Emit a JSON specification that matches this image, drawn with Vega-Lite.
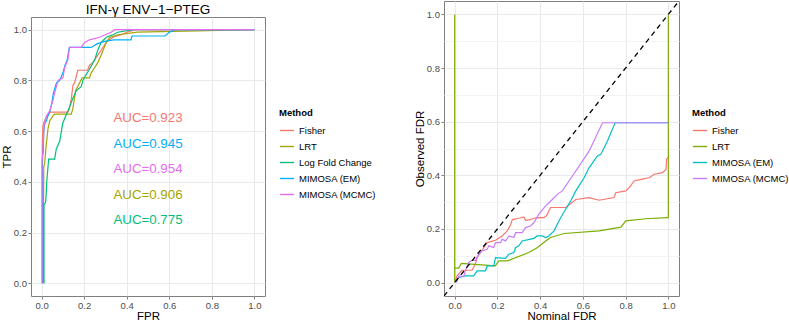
{
  "$schema": "https://vega.github.io/schema/vega-lite/v6.json",
  "padding": 0,
  "background": "white",
  "spacing": 36,
  "config": {
    "font": "Liberation Sans",
    "view": {"stroke": "#7f7f7f", "strokeWidth": 1},
    "title": {"font": "Liberation Sans"},
    "axis": {
      "domain": false,
      "grid": true,
      "tickColor": "#7f7f7f",
      "tickSize": 3,
      "labelColor": "#4d4d4d",
      "labelFontSize": 9.5,
      "labelPadding": 1.5,
      "titleFontSize": 11.5,
      "titleFontWeight": "normal",
      "titleColor": "#000000",
      "labelExpr": "round(datum.value*10)%2==0 ? format(datum.value,'.1f') : ''",
      "tickOpacity": {"condition": {"test": "round(datum.value*10)%2==1", "value": 0}, "value": 1},
      "gridColor": {"condition": {"test": "round(datum.value*10)%2==1", "value": "#f4f4f4"}, "value": "#e9e9e9"},
      "values": [0, 0.1, 0.2, 0.3, 0.4, 0.5, 0.6, 0.7, 0.8, 0.9, 1.0]
    },
    "axisX": {"titlePadding": 0},
    "axisY": {"titlePadding": 1},
    "legend": {
      "titleFontSize": 9.5,
      "titleFontWeight": "bold",
      "titleColor": "#000000",
      "labelFontSize": 9.5,
      "labelColor": "#000000",
      "symbolType": "stroke",
      "symbolSize": 200,
      "symbolStrokeWidth": 1.4,
      "rowPadding": 3,
      "titlePadding": 5
    }
  },
  "datasets": {
    "heading": [
      {"text": "IFN-γ ENV−1−PTEG"}
    ],
    "roc": [
      {"Method": "Fisher", "FPR": 0.003, "TPR": 0},
      {"Method": "Fisher", "FPR": 0.003, "TPR": 0.55},
      {"Method": "Fisher", "FPR": 0.006, "TPR": 0.62},
      {"Method": "Fisher", "FPR": 0.013, "TPR": 0.64},
      {"Method": "Fisher", "FPR": 0.022, "TPR": 0.655},
      {"Method": "Fisher", "FPR": 0.038, "TPR": 0.675},
      {"Method": "Fisher", "FPR": 0.124, "TPR": 0.675},
      {"Method": "Fisher", "FPR": 0.131, "TPR": 0.69},
      {"Method": "Fisher", "FPR": 0.14, "TPR": 0.73},
      {"Method": "Fisher", "FPR": 0.147, "TPR": 0.78},
      {"Method": "Fisher", "FPR": 0.155, "TPR": 0.79},
      {"Method": "Fisher", "FPR": 0.17, "TPR": 0.84},
      {"Method": "Fisher", "FPR": 0.216, "TPR": 0.84},
      {"Method": "Fisher", "FPR": 0.225, "TPR": 0.86},
      {"Method": "Fisher", "FPR": 0.24, "TPR": 0.87},
      {"Method": "Fisher", "FPR": 0.264, "TPR": 0.9},
      {"Method": "Fisher", "FPR": 0.28, "TPR": 0.92},
      {"Method": "Fisher", "FPR": 0.304, "TPR": 0.95},
      {"Method": "Fisher", "FPR": 0.335, "TPR": 0.97},
      {"Method": "Fisher", "FPR": 0.374, "TPR": 0.98},
      {"Method": "Fisher", "FPR": 0.4, "TPR": 0.99},
      {"Method": "Fisher", "FPR": 0.44, "TPR": 1.0},
      {"Method": "Fisher", "FPR": 1.0, "TPR": 1.0},
      {"Method": "LRT", "FPR": 0.009, "TPR": 0},
      {"Method": "LRT", "FPR": 0.009, "TPR": 0.31},
      {"Method": "LRT", "FPR": 0.01, "TPR": 0.46},
      {"Method": "LRT", "FPR": 0.014, "TPR": 0.47},
      {"Method": "LRT", "FPR": 0.022, "TPR": 0.55},
      {"Method": "LRT", "FPR": 0.03, "TPR": 0.61},
      {"Method": "LRT", "FPR": 0.038, "TPR": 0.64},
      {"Method": "LRT", "FPR": 0.053, "TPR": 0.66},
      {"Method": "LRT", "FPR": 0.061, "TPR": 0.667},
      {"Method": "LRT", "FPR": 0.139, "TPR": 0.667},
      {"Method": "LRT", "FPR": 0.147, "TPR": 0.69},
      {"Method": "LRT", "FPR": 0.16, "TPR": 0.76},
      {"Method": "LRT", "FPR": 0.178, "TPR": 0.79},
      {"Method": "LRT", "FPR": 0.19, "TPR": 0.81},
      {"Method": "LRT", "FPR": 0.225, "TPR": 0.81},
      {"Method": "LRT", "FPR": 0.233, "TPR": 0.83},
      {"Method": "LRT", "FPR": 0.249, "TPR": 0.85},
      {"Method": "LRT", "FPR": 0.264, "TPR": 0.87},
      {"Method": "LRT", "FPR": 0.28, "TPR": 0.9},
      {"Method": "LRT", "FPR": 0.304, "TPR": 0.95},
      {"Method": "LRT", "FPR": 0.32, "TPR": 0.97},
      {"Method": "LRT", "FPR": 0.36, "TPR": 0.98},
      {"Method": "LRT", "FPR": 0.45, "TPR": 0.99},
      {"Method": "LRT", "FPR": 1.0, "TPR": 1.0},
      {"Method": "Log Fold Change", "FPR": 0.011, "TPR": 0},
      {"Method": "Log Fold Change", "FPR": 0.011, "TPR": 0.31},
      {"Method": "Log Fold Change", "FPR": 0.019, "TPR": 0.32},
      {"Method": "Log Fold Change", "FPR": 0.022, "TPR": 0.36},
      {"Method": "Log Fold Change", "FPR": 0.024, "TPR": 0.4},
      {"Method": "Log Fold Change", "FPR": 0.033, "TPR": 0.49},
      {"Method": "Log Fold Change", "FPR": 0.061, "TPR": 0.49},
      {"Method": "Log Fold Change", "FPR": 0.069, "TPR": 0.53},
      {"Method": "Log Fold Change", "FPR": 0.085, "TPR": 0.56},
      {"Method": "Log Fold Change", "FPR": 0.099, "TPR": 0.63},
      {"Method": "Log Fold Change", "FPR": 0.113, "TPR": 0.66},
      {"Method": "Log Fold Change", "FPR": 0.124, "TPR": 0.68},
      {"Method": "Log Fold Change", "FPR": 0.147, "TPR": 0.73},
      {"Method": "Log Fold Change", "FPR": 0.163, "TPR": 0.76},
      {"Method": "Log Fold Change", "FPR": 0.186, "TPR": 0.775},
      {"Method": "Log Fold Change", "FPR": 0.194, "TPR": 0.8},
      {"Method": "Log Fold Change", "FPR": 0.207, "TPR": 0.82},
      {"Method": "Log Fold Change", "FPR": 0.222, "TPR": 0.84},
      {"Method": "Log Fold Change", "FPR": 0.249, "TPR": 0.88},
      {"Method": "Log Fold Change", "FPR": 0.264, "TPR": 0.92},
      {"Method": "Log Fold Change", "FPR": 0.28, "TPR": 0.95},
      {"Method": "Log Fold Change", "FPR": 0.304, "TPR": 0.97},
      {"Method": "Log Fold Change", "FPR": 0.335, "TPR": 0.98},
      {"Method": "Log Fold Change", "FPR": 0.358, "TPR": 0.99},
      {"Method": "Log Fold Change", "FPR": 0.43, "TPR": 1.0},
      {"Method": "Log Fold Change", "FPR": 1.0, "TPR": 1.0},
      {"Method": "MIMOSA (EM)", "FPR": 0.004, "TPR": 0},
      {"Method": "MIMOSA (EM)", "FPR": 0.004, "TPR": 0.5},
      {"Method": "MIMOSA (EM)", "FPR": 0.008, "TPR": 0.52},
      {"Method": "MIMOSA (EM)", "FPR": 0.01, "TPR": 0.6},
      {"Method": "MIMOSA (EM)", "FPR": 0.015, "TPR": 0.63},
      {"Method": "MIMOSA (EM)", "FPR": 0.022, "TPR": 0.64},
      {"Method": "MIMOSA (EM)", "FPR": 0.03, "TPR": 0.66},
      {"Method": "MIMOSA (EM)", "FPR": 0.04, "TPR": 0.68},
      {"Method": "MIMOSA (EM)", "FPR": 0.05, "TPR": 0.72},
      {"Method": "MIMOSA (EM)", "FPR": 0.055, "TPR": 0.75},
      {"Method": "MIMOSA (EM)", "FPR": 0.07, "TPR": 0.79},
      {"Method": "MIMOSA (EM)", "FPR": 0.085, "TPR": 0.8},
      {"Method": "MIMOSA (EM)", "FPR": 0.1, "TPR": 0.83},
      {"Method": "MIMOSA (EM)", "FPR": 0.11, "TPR": 0.86},
      {"Method": "MIMOSA (EM)", "FPR": 0.12, "TPR": 0.88},
      {"Method": "MIMOSA (EM)", "FPR": 0.13, "TPR": 0.93},
      {"Method": "MIMOSA (EM)", "FPR": 0.233, "TPR": 0.93},
      {"Method": "MIMOSA (EM)", "FPR": 0.26, "TPR": 0.944},
      {"Method": "MIMOSA (EM)", "FPR": 0.3, "TPR": 0.955},
      {"Method": "MIMOSA (EM)", "FPR": 0.34, "TPR": 0.96},
      {"Method": "MIMOSA (EM)", "FPR": 0.42, "TPR": 0.96},
      {"Method": "MIMOSA (EM)", "FPR": 0.425, "TPR": 0.975},
      {"Method": "MIMOSA (EM)", "FPR": 0.58, "TPR": 0.975},
      {"Method": "MIMOSA (EM)", "FPR": 0.6, "TPR": 0.99},
      {"Method": "MIMOSA (EM)", "FPR": 0.63, "TPR": 1.0},
      {"Method": "MIMOSA (EM)", "FPR": 1.0, "TPR": 1.0},
      {"Method": "MIMOSA (MCMC)", "FPR": 0.002, "TPR": 0},
      {"Method": "MIMOSA (MCMC)", "FPR": 0.002, "TPR": 0.48},
      {"Method": "MIMOSA (MCMC)", "FPR": 0.006, "TPR": 0.52},
      {"Method": "MIMOSA (MCMC)", "FPR": 0.011, "TPR": 0.62},
      {"Method": "MIMOSA (MCMC)", "FPR": 0.022, "TPR": 0.66},
      {"Method": "MIMOSA (MCMC)", "FPR": 0.038, "TPR": 0.68},
      {"Method": "MIMOSA (MCMC)", "FPR": 0.053, "TPR": 0.72},
      {"Method": "MIMOSA (MCMC)", "FPR": 0.061, "TPR": 0.75},
      {"Method": "MIMOSA (MCMC)", "FPR": 0.077, "TPR": 0.8},
      {"Method": "MIMOSA (MCMC)", "FPR": 0.1, "TPR": 0.81},
      {"Method": "MIMOSA (MCMC)", "FPR": 0.108, "TPR": 0.85},
      {"Method": "MIMOSA (MCMC)", "FPR": 0.123, "TPR": 0.88},
      {"Method": "MIMOSA (MCMC)", "FPR": 0.131, "TPR": 0.93},
      {"Method": "MIMOSA (MCMC)", "FPR": 0.186, "TPR": 0.93},
      {"Method": "MIMOSA (MCMC)", "FPR": 0.202, "TPR": 0.95},
      {"Method": "MIMOSA (MCMC)", "FPR": 0.225, "TPR": 0.96},
      {"Method": "MIMOSA (MCMC)", "FPR": 0.272, "TPR": 0.97},
      {"Method": "MIMOSA (MCMC)", "FPR": 0.327, "TPR": 0.99},
      {"Method": "MIMOSA (MCMC)", "FPR": 0.343, "TPR": 1.0},
      {"Method": "MIMOSA (MCMC)", "FPR": 1.0, "TPR": 1.0}
    ],
    "auc": [
      {"Method": "Fisher", "FPR": 0.5, "TPR": 0.65, "label": "AUC=0.923"},
      {"Method": "MIMOSA (EM)", "FPR": 0.5, "TPR": 0.55, "label": "AUC=0.945"},
      {"Method": "MIMOSA (MCMC)", "FPR": 0.5, "TPR": 0.45, "label": "AUC=0.954"},
      {"Method": "LRT", "FPR": 0.5, "TPR": 0.35, "label": "AUC=0.906"},
      {"Method": "Log Fold Change", "FPR": 0.5, "TPR": 0.25, "label": "AUC=0.775"}
    ],
    "fdr": [
      {"Method": "Fisher", "nominal": 0, "observed": 0},
      {"Method": "Fisher", "nominal": 0.011, "observed": 0.025},
      {"Method": "Fisher", "nominal": 0.034, "observed": 0.046},
      {"Method": "Fisher", "nominal": 0.081, "observed": 0.046},
      {"Method": "Fisher", "nominal": 0.097, "observed": 0.069},
      {"Method": "Fisher", "nominal": 0.105, "observed": 0.093},
      {"Method": "Fisher", "nominal": 0.136, "observed": 0.13},
      {"Method": "Fisher", "nominal": 0.152, "observed": 0.149},
      {"Method": "Fisher", "nominal": 0.191, "observed": 0.158},
      {"Method": "Fisher", "nominal": 0.222, "observed": 0.174},
      {"Method": "Fisher", "nominal": 0.246, "observed": 0.193},
      {"Method": "Fisher", "nominal": 0.261, "observed": 0.215},
      {"Method": "Fisher", "nominal": 0.27, "observed": 0.235},
      {"Method": "Fisher", "nominal": 0.3, "observed": 0.24},
      {"Method": "Fisher", "nominal": 0.324, "observed": 0.245},
      {"Method": "Fisher", "nominal": 0.332, "observed": 0.232},
      {"Method": "Fisher", "nominal": 0.355, "observed": 0.235},
      {"Method": "Fisher", "nominal": 0.37, "observed": 0.24},
      {"Method": "Fisher", "nominal": 0.394, "observed": 0.242},
      {"Method": "Fisher", "nominal": 0.418, "observed": 0.242},
      {"Method": "Fisher", "nominal": 0.43, "observed": 0.25},
      {"Method": "Fisher", "nominal": 0.449, "observed": 0.28},
      {"Method": "Fisher", "nominal": 0.52, "observed": 0.28},
      {"Method": "Fisher", "nominal": 0.567, "observed": 0.31},
      {"Method": "Fisher", "nominal": 0.629, "observed": 0.317},
      {"Method": "Fisher", "nominal": 0.676, "observed": 0.307},
      {"Method": "Fisher", "nominal": 0.746, "observed": 0.317},
      {"Method": "Fisher", "nominal": 0.754, "observed": 0.335},
      {"Method": "Fisher", "nominal": 0.801, "observed": 0.342},
      {"Method": "Fisher", "nominal": 0.817, "observed": 0.354},
      {"Method": "Fisher", "nominal": 0.84, "observed": 0.379},
      {"Method": "Fisher", "nominal": 0.872, "observed": 0.385},
      {"Method": "Fisher", "nominal": 0.911, "observed": 0.391},
      {"Method": "Fisher", "nominal": 0.934, "observed": 0.404},
      {"Method": "Fisher", "nominal": 0.973, "observed": 0.41},
      {"Method": "Fisher", "nominal": 0.989, "observed": 0.422},
      {"Method": "Fisher", "nominal": 0.992, "observed": 0.46},
      {"Method": "Fisher", "nominal": 1.0, "observed": 0.466},
      {"Method": "LRT", "nominal": 0, "observed": 0},
      {"Method": "LRT", "nominal": 0, "observed": 1.0},
      {"Method": "LRT", "nominal": 0, "observed": 0.054},
      {"Method": "LRT", "nominal": 0.019, "observed": 0.054},
      {"Method": "LRT", "nominal": 0.031, "observed": 0.072},
      {"Method": "LRT", "nominal": 0.19, "observed": 0.062},
      {"Method": "LRT", "nominal": 0.207, "observed": 0.081},
      {"Method": "LRT", "nominal": 0.246, "observed": 0.081},
      {"Method": "LRT", "nominal": 0.347, "observed": 0.112},
      {"Method": "LRT", "nominal": 0.386, "observed": 0.13},
      {"Method": "LRT", "nominal": 0.426, "observed": 0.155},
      {"Method": "LRT", "nominal": 0.449, "observed": 0.168},
      {"Method": "LRT", "nominal": 0.512, "observed": 0.183},
      {"Method": "LRT", "nominal": 0.676, "observed": 0.193},
      {"Method": "LRT", "nominal": 0.778, "observed": 0.207},
      {"Method": "LRT", "nominal": 0.801, "observed": 0.23},
      {"Method": "LRT", "nominal": 0.895, "observed": 0.238},
      {"Method": "LRT", "nominal": 0.997, "observed": 0.242},
      {"Method": "LRT", "nominal": 1.0, "observed": 0.242},
      {"Method": "LRT", "nominal": 1.0, "observed": 0.65},
      {"Method": "LRT", "nominal": 1.0, "observed": 1.0},
      {"Method": "MIMOSA (EM)", "nominal": 0, "observed": 0},
      {"Method": "MIMOSA (EM)", "nominal": 0.019, "observed": 0.019},
      {"Method": "MIMOSA (EM)", "nominal": 0.05, "observed": 0.025},
      {"Method": "MIMOSA (EM)", "nominal": 0.089, "observed": 0.025},
      {"Method": "MIMOSA (EM)", "nominal": 0.105, "observed": 0.044},
      {"Method": "MIMOSA (EM)", "nominal": 0.144, "observed": 0.044},
      {"Method": "MIMOSA (EM)", "nominal": 0.152, "observed": 0.062},
      {"Method": "MIMOSA (EM)", "nominal": 0.183, "observed": 0.062},
      {"Method": "MIMOSA (EM)", "nominal": 0.191, "observed": 0.093},
      {"Method": "MIMOSA (EM)", "nominal": 0.238, "observed": 0.09},
      {"Method": "MIMOSA (EM)", "nominal": 0.254, "observed": 0.106},
      {"Method": "MIMOSA (EM)", "nominal": 0.277, "observed": 0.112},
      {"Method": "MIMOSA (EM)", "nominal": 0.285, "observed": 0.13},
      {"Method": "MIMOSA (EM)", "nominal": 0.3, "observed": 0.137},
      {"Method": "MIMOSA (EM)", "nominal": 0.316, "observed": 0.155},
      {"Method": "MIMOSA (EM)", "nominal": 0.355, "observed": 0.162},
      {"Method": "MIMOSA (EM)", "nominal": 0.371, "observed": 0.165},
      {"Method": "MIMOSA (EM)", "nominal": 0.386, "observed": 0.174},
      {"Method": "MIMOSA (EM)", "nominal": 0.41, "observed": 0.174},
      {"Method": "MIMOSA (EM)", "nominal": 0.426, "observed": 0.168},
      {"Method": "MIMOSA (EM)", "nominal": 0.441, "observed": 0.174},
      {"Method": "MIMOSA (EM)", "nominal": 0.465, "observed": 0.193},
      {"Method": "MIMOSA (EM)", "nominal": 0.488, "observed": 0.23},
      {"Method": "MIMOSA (EM)", "nominal": 0.496, "observed": 0.242},
      {"Method": "MIMOSA (EM)", "nominal": 0.543, "observed": 0.304},
      {"Method": "MIMOSA (EM)", "nominal": 0.567, "observed": 0.342},
      {"Method": "MIMOSA (EM)", "nominal": 0.606, "observed": 0.391},
      {"Method": "MIMOSA (EM)", "nominal": 0.629, "observed": 0.428},
      {"Method": "MIMOSA (EM)", "nominal": 0.668, "observed": 0.472},
      {"Method": "MIMOSA (EM)", "nominal": 0.684, "observed": 0.478},
      {"Method": "MIMOSA (EM)", "nominal": 0.715, "observed": 0.528},
      {"Method": "MIMOSA (EM)", "nominal": 0.751, "observed": 0.596},
      {"Method": "MIMOSA (EM)", "nominal": 1.0, "observed": 0.596},
      {"Method": "MIMOSA (MCMC)", "nominal": 0.005, "observed": 0},
      {"Method": "MIMOSA (MCMC)", "nominal": 0.011, "observed": 0.006},
      {"Method": "MIMOSA (MCMC)", "nominal": 0.019, "observed": 0.025},
      {"Method": "MIMOSA (MCMC)", "nominal": 0.042, "observed": 0.022},
      {"Method": "MIMOSA (MCMC)", "nominal": 0.05, "observed": 0.044},
      {"Method": "MIMOSA (MCMC)", "nominal": 0.066, "observed": 0.075},
      {"Method": "MIMOSA (MCMC)", "nominal": 0.081, "observed": 0.083},
      {"Method": "MIMOSA (MCMC)", "nominal": 0.097, "observed": 0.083},
      {"Method": "MIMOSA (MCMC)", "nominal": 0.113, "observed": 0.106},
      {"Method": "MIMOSA (MCMC)", "nominal": 0.128, "observed": 0.118},
      {"Method": "MIMOSA (MCMC)", "nominal": 0.152, "observed": 0.124},
      {"Method": "MIMOSA (MCMC)", "nominal": 0.16, "observed": 0.137},
      {"Method": "MIMOSA (MCMC)", "nominal": 0.183, "observed": 0.131},
      {"Method": "MIMOSA (MCMC)", "nominal": 0.191, "observed": 0.149},
      {"Method": "MIMOSA (MCMC)", "nominal": 0.215, "observed": 0.149},
      {"Method": "MIMOSA (MCMC)", "nominal": 0.222, "observed": 0.162},
      {"Method": "MIMOSA (MCMC)", "nominal": 0.238, "observed": 0.155},
      {"Method": "MIMOSA (MCMC)", "nominal": 0.254, "observed": 0.174},
      {"Method": "MIMOSA (MCMC)", "nominal": 0.277, "observed": 0.168},
      {"Method": "MIMOSA (MCMC)", "nominal": 0.285, "observed": 0.186},
      {"Method": "MIMOSA (MCMC)", "nominal": 0.316, "observed": 0.186},
      {"Method": "MIMOSA (MCMC)", "nominal": 0.332, "observed": 0.205},
      {"Method": "MIMOSA (MCMC)", "nominal": 0.355, "observed": 0.211},
      {"Method": "MIMOSA (MCMC)", "nominal": 0.371, "observed": 0.224},
      {"Method": "MIMOSA (MCMC)", "nominal": 0.394, "observed": 0.255},
      {"Method": "MIMOSA (MCMC)", "nominal": 0.426, "observed": 0.286},
      {"Method": "MIMOSA (MCMC)", "nominal": 0.457, "observed": 0.31},
      {"Method": "MIMOSA (MCMC)", "nominal": 0.48, "observed": 0.329},
      {"Method": "MIMOSA (MCMC)", "nominal": 0.504, "observed": 0.342},
      {"Method": "MIMOSA (MCMC)", "nominal": 0.567, "observed": 0.416},
      {"Method": "MIMOSA (MCMC)", "nominal": 0.629, "observed": 0.49},
      {"Method": "MIMOSA (MCMC)", "nominal": 0.692, "observed": 0.596},
      {"Method": "MIMOSA (MCMC)", "nominal": 1.0, "observed": 0.596}
    ],
    "diag": [
      {"nominal": -0.05, "observed": -0.05},
      {"nominal": 1.05, "observed": 1.05}
    ]
  },
  "hconcat": [
    {
      "spacing": 0,
      "vconcat": [
        {
          "width": 234,
          "height": 14,
          "view": {"stroke": null},
          "data": {"name": "heading"},
          "mark": {"type": "text", "fontSize": 13.5, "color": "#000000", "align": "center", "baseline": "middle", "dy": 1.5},
          "encoding": {"text": {"field": "text"}}
        },
        {
          "width": 234,
          "height": 279,
          "layer": [
            {
              "data": {"name": "roc"},
              "mark": {"type": "line", "strokeWidth": 1.2, "clip": true},
              "encoding": {
                "x": {"field": "FPR", "type": "quantitative", "scale": {"domain": [-0.05, 1.05], "nice": false, "zero": false}, "axis": {"title": "FPR"}},
                "y": {"field": "TPR", "type": "quantitative", "scale": {"domain": [-0.05, 1.05], "nice": false, "zero": false}, "axis": {"title": "TPR"}},
                "color": {"field": "Method", "type": "nominal", "scale": {"domain": ["Fisher", "LRT", "Log Fold Change", "MIMOSA (EM)", "MIMOSA (MCMC)"], "range": ["#F8766D", "#A3A500", "#00BF7D", "#00B0F6", "#E76BF3"]}, "legend": {"title": "Method", "orient": "none", "legendX": 248, "legendY": 107}},
                "order": {"value": null}
              }
            },
            {
              "data": {"name": "auc"},
              "mark": {"type": "text", "fontSize": 13.3, "align": "center", "baseline": "middle"},
              "encoding": {
                "x": {"field": "FPR", "type": "quantitative"},
                "y": {"field": "TPR", "type": "quantitative"},
                "text": {"field": "label"},
                "color": {"field": "Method", "type": "nominal"}
              }
            }
          ]
        }
      ]
    },
    {
      "width": 235,
      "height": 295,
      "layer": [
        {
          "data": {"name": "fdr"},
          "mark": {"type": "line", "strokeWidth": 1.2, "clip": true},
          "encoding": {
            "x": {"field": "nominal", "type": "quantitative", "scale": {"domain": [-0.05, 1.05], "nice": false, "zero": false}, "axis": {"title": "Nominal FDR"}},
            "y": {"field": "observed", "type": "quantitative", "scale": {"domain": [-0.05, 1.05], "nice": false, "zero": false}, "axis": {"title": "Observed FDR"}},
            "color": {"field": "Method", "type": "nominal", "scale": {"domain": ["Fisher", "LRT", "MIMOSA (EM)", "MIMOSA (MCMC)"], "range": ["#F8766D", "#7CAE00", "#00BFC4", "#C77CFF"]}, "legend": {"title": "Method", "orient": "none", "legendX": 248, "legendY": 107}},
            "order": {"value": null}
          }
        },
        {
          "data": {"name": "diag"},
          "mark": {"type": "line", "color": "#000000", "strokeWidth": 1.3, "strokeDash": [5, 4], "clip": true},
          "encoding": {
            "x": {"field": "nominal", "type": "quantitative"},
            "y": {"field": "observed", "type": "quantitative"}
          }
        }
      ]
    }
  ],
  "resolve": {"scale": {"color": "independent"}, "legend": {"color": "independent"}}
}
